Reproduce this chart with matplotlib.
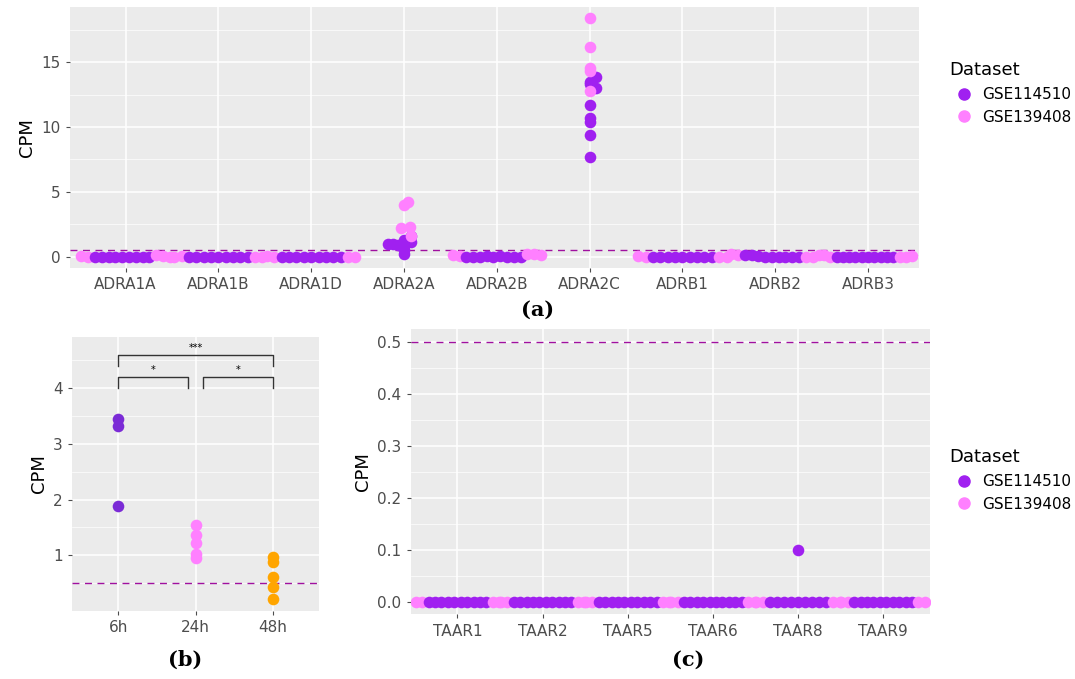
import matplotlib.pyplot as plt
import numpy as np

PURPLE = '#A020F0'
PINK = '#FF80FF'
BG = '#EBEBEB'

# panel (a) data
genes_a = ['ADRA1A', 'ADRA1B', 'ADRA1D', 'ADRA2A', 'ADRA2B', 'ADRA2C', 'ADRB1', 'ADRB2', 'ADRB3']
a_gse114510 = {
    'ADRA1A': [0.0] * 9, 'ADRA1B': [0.0] * 9, 'ADRA1D': [0.0] * 9,
    'ADRA2A': [1.0, 0.95, 0.9, 1.1, 1.6, 1.3, 0.8, 0.5, 0.2],
    'ADRA2B': [0.0, 0.0, 0.0, 0.05, 0.0, 0.05, 0.0, 0.0, 0.0],
    'ADRA2C': [13.9, 13.0, 13.5, 11.7, 10.7, 10.4, 9.4, 7.7, 13.3],
    'ADRB1': [0.0] * 9, 'ADRB2': [0.1, 0.1, 0.05, 0.0, 0.0, 0.0, 0.0, 0.0, 0.0],
    'ADRB3': [0.0] * 10,
}
a_gse139408 = {
    'ADRA1A': [0.05, 0.0, 0.1, 0.05, 0.0], 'ADRA1B': [0.0, 0.05, 0.0, 0.0], 'ADRA1D': [0.05, 0.0, 0.0, 0.0],
    'ADRA2A': [4.2, 4.0, 2.3, 2.2, 1.6],
    'ADRA2B': [0.1, 0.05, 0.2, 0.2, 0.1],
    'ADRA2C': [18.4, 16.2, 14.6, 14.3, 12.8],
    'ADRB1': [0.05, 0.0, 0.0, 0.0], 'ADRB2': [0.2, 0.1, 0.0, 0.0, 0.1],
    'ADRB3': [0.1, 0.0, 0.0, 0.0, 0.05],
}

# panel (b) data
times_b = ['6h', '24h', '48h']
b_values = [[3.45, 3.32, 1.88], [1.55, 1.37, 1.22, 1.02, 0.96], [0.97, 0.88, 0.62, 0.44, 0.22]]
b_colors = ['#7B2BD6', '#FF80FF', '#FFA500']

# panel (c) data
genes_c = ['TAAR1', 'TAAR2', 'TAAR5', 'TAAR6', 'TAAR8', 'TAAR9']
c_gse114510 = {g: [0.0] * 10 for g in genes_c}
c_gse114510['TAAR8'] = [0.0] * 9 + [0.1]
c_gse139408 = {g: [0.0] * 4 for g in genes_c}


def swarm(ax, i, vals, cols, thr, width):
    # spread values that sit together across a row; pink on the edges
    low = [(v, c) for v, c in zip(vals, cols) if v <= thr]
    high = [(v, c) for v, c in zip(vals, cols) if v > thr]
    pinks = [p for p in low if p[1] == PINK]
    purps = [p for p in low if p[1] != PINK]
    order = pinks[:len(pinks) // 2] + purps + pinks[len(pinks) // 2:]
    n = len(order)
    xs = i + (np.arange(n) - (n - 1) / 2) * width / max(n - 1, 1)
    for x, (v, c) in zip(xs, order):
        ax.scatter(x, v, s=70, color=c, zorder=3, lw=0)
    for v, c in high:
        ax.scatter(i, v, s=70, color=c, zorder=3, lw=0)


def style(ax):
    ax.set_facecolor(BG)
    ax.grid(True, color='white', lw=1.1)
    ax.set_axisbelow(True)
    for s in ax.spines.values():
        s.set_visible(False)
    ax.tick_params(colors='#4D4D4D', labelsize=11, length=3)
    ax.tick_params(which='minor', length=0)
    ax.set_ylabel('CPM', fontsize=13)


fig = plt.figure(figsize=(10.75, 6.79), dpi=100)

# (a)
ax = fig.add_axes([0.065, 0.605, 0.79, 0.385])
style(ax)
for i, g in enumerate(genes_a):
    vals = a_gse114510[g] + a_gse139408[g]
    cols = [PURPLE] * len(a_gse114510[g]) + [PINK] * len(a_gse139408[g])
    if g in ('ADRA2A', 'ADRA2C'):
        for v, c in zip(vals, cols):
            dx = 0.07 if c == PURPLE and g == 'ADRA2C' and v in (13.9, 13.0) else 0
            if g == 'ADRA2A':
                dx = {1.0: -0.17, 0.95: -0.12, 0.9: -0.07, 1.1: 0.08, 2.3: 0.06, 2.2: -0.03, 1.6: 0.08, 4.2: 0.04}.get(v, 0)
            ax.scatter(i + dx, v, s=70, color=c, zorder=3, lw=0)
    else:
        swarm(ax, i, vals, cols, 0.5, 0.95)
ax.axhline(0.5, color='#A0109F', ls='--', lw=1, dashes=(5, 4))
ax.set_xticks(range(len(genes_a)))
ax.set_xticklabels(genes_a)
ax.set_xlim(-0.6, len(genes_a) - 0.45)
ax.set_ylim(-0.9, 19.3)
ax.set_yticks([0, 5, 10, 15])
ax.yaxis.set_minor_locator(plt.MultipleLocator(2.5))
ax.grid(True, which='minor', axis='y', color='white', lw=0.5)
fig.text(0.5, 0.535, '(a)', ha='center', fontsize=15, family='DejaVu Serif', weight='bold')
leg = [plt.Line2D([], [], marker='o', ls='', color=c, markersize=8) for c in (PURPLE, PINK)]
fig.legend(leg, ['GSE114510', 'GSE139408'], title='Dataset', loc='upper left',
           bbox_to_anchor=(0.87, 0.93), frameon=False, fontsize=11, title_fontsize=13,
           alignment='left', handletextpad=0.2)

# (b)
ax = fig.add_axes([0.067, 0.1, 0.23, 0.404])
style(ax)
for i, (vals, c) in enumerate(zip(b_values, b_colors)):
    ax.scatter([i] * len(vals), vals, s=70, color=c, zorder=3, lw=0)
ax.axhline(0.5, color='#A0109F', ls='--', lw=1, dashes=(5, 4))
ax.set_xticks(range(3))
ax.set_xticklabels(times_b)
ax.set_xlim(-0.6, 2.6)
ax.set_ylim(0.0, 4.92)
ax.set_yticks([1, 2, 3, 4])
ax.yaxis.set_minor_locator(plt.MultipleLocator(0.5))
ax.grid(True, which='minor', axis='y', color='white', lw=0.5)
for x0, x1, y, lab in [(0, 0.9, 4.2, '*'), (1.1, 2, 4.2, '*'), (0, 2, 4.6, '***')]:
    ax.plot([x0, x0, x1, x1], [y - 0.2, y, y, y - 0.2], color='#333333', lw=1)
    ax.text((x0 + x1) / 2, y + 0.03, lab, ha='center', va='bottom', fontsize=7)
fig.text(0.172, 0.02, '(b)', ha='center', fontsize=15, family='DejaVu Serif', weight='bold')

# (c)
ax = fig.add_axes([0.382, 0.095, 0.483, 0.42])
style(ax)
for i, g in enumerate(genes_c):
    vals = c_gse114510[g] + c_gse139408[g]
    cols = [PURPLE] * len(c_gse114510[g]) + [PINK] * len(c_gse139408[g])
    swarm(ax, i, vals, cols, 0.05, 0.98)
ax.axhline(0.5, color='#A0109F', ls='--', lw=1, dashes=(5, 4))
ax.set_xticks(range(len(genes_c)))
ax.set_xticklabels(genes_c)
ax.set_xlim(-0.55, len(genes_c) - 0.45)
ax.set_ylim(-0.025, 0.525)
ax.set_yticks(np.arange(0, 0.51, 0.1))
ax.yaxis.set_major_formatter(plt.FormatStrFormatter('%.1f'))
ax.yaxis.set_minor_locator(plt.MultipleLocator(0.05))
ax.grid(True, which='minor', axis='y', color='white', lw=0.5)
fig.legend(leg, ['GSE114510', 'GSE139408'], title='Dataset', loc='upper left',
           bbox_to_anchor=(0.87, 0.36), frameon=False, fontsize=11, title_fontsize=13,
           alignment='left', handletextpad=0.2)
fig.text(0.64, 0.02, '(c)', ha='center', fontsize=15, family='DejaVu Serif', weight='bold')

fig.savefig('out.png', dpi=100)
